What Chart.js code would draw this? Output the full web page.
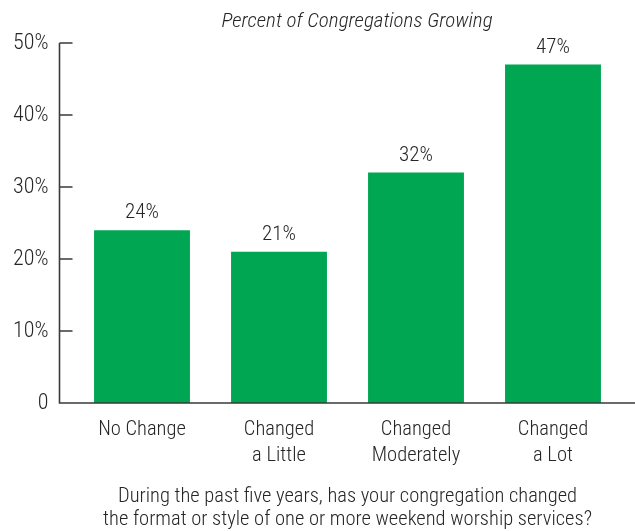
<!DOCTYPE html>
<html>
<head>
<meta charset="utf-8">
<script src="https://cdn.jsdelivr.net/npm/chart.js@4/dist/chart.umd.min.js"></script>
<style>
  html, body { margin: 0; padding: 0; background: #fff; }
  #wrap { width: 635px; height: 531px; }
</style>
</head>
<body>
<div id="wrap"><canvas id="chart"></canvas></div>
<script>
// Chart data
const categories = [["No Change"], ["Changed", "a Little"], ["Changed", "Moderately"], ["Changed", "a Lot"]];
const growingPct = [24, 21, 32, 47];
const yTickValues = [0, 10, 20, 30, 40, 50];
const yTickLabels = ["0", "10%", "20%", "30%", "40%", "50%"];
const subtitle = "Percent of Congregations Growing";
const xTitle = ["During the past five years, has your congregation changed",
                "the format or style of one or more weekend worship services?"];

const FONT = "'Roboto Condensed', Roboto, sans-serif";
const TEXT = "#262626";
const AXIS = "#3a3a3a";

// Axis lines, ticks, subtitle and value labels
const decorPlugin = {
  id: "decor",
  afterDatasetsDraw(chart) {
    const ctx = chart.ctx;
    const y = chart.scales.y;
    const axisX = 59.5;

    ctx.save();
    ctx.strokeStyle = AXIS;
    ctx.lineWidth = 1.6;
    ctx.beginPath();
    ctx.moveTo(axisX, y.getPixelForValue(50));
    ctx.lineTo(axisX, y.getPixelForValue(0));
    ctx.lineTo(chart.width, y.getPixelForValue(0));
    yTickValues.forEach(v => {
      if (v === 0) return;
      const py = y.getPixelForValue(v);
      ctx.moveTo(axisX, py);
      ctx.lineTo(axisX + 13, py);
    });
    ctx.stroke();

    // value labels
    ctx.fillStyle = TEXT;
    ctx.font = "300 21px " + FONT;
    ctx.textAlign = "center";
    ctx.textBaseline = "middle";
    chart.getDatasetMeta(0).data.forEach((bar, i) => {
      ctx.fillText(growingPct[i] + "%", bar.x, bar.y - 17);
    });

    // subtitle
    ctx.font = "italic 300 21px " + FONT;
    ctx.fillText(subtitle, 357, 22);
    ctx.restore();
  }
};

new Chart(document.getElementById("chart"), {
  type: "bar",
  data: {
    labels: categories,
    datasets: [{
      data: growingPct,
      backgroundColor: "#00a651",
      borderWidth: 0,
      categoryPercentage: 1,
      barPercentage: 0.7
    }]
  },
  options: {
    responsive: true,
    maintainAspectRatio: false,
    animation: false,
    layout: { padding: { top: 43, right: 13.5, bottom: 0, left: 0 } },
    plugins: {
      legend: { display: false },
      tooltip: { enabled: false }
    },
    scales: {
      x: {
        grid: { display: false, drawTicks: false },
        border: { display: false },
        ticks: {
          color: TEXT,
          padding: 14,
          font: { family: FONT, size: 20.5, weight: 300, lineHeight: 26 / 20.5 },
          maxRotation: 0
        },
        title: {
          display: true,
          text: xTitle,
          color: TEXT,
          padding: 0,
          font: { family: FONT, size: 20.5, weight: 300, lineHeight: 23 / 20.5 }
        },
        afterFit(scale) { scale.height = 128; }
      },
      y: {
        min: 0,
        max: 50,
        grid: { display: false, drawTicks: false },
        border: { display: false },
        afterBuildTicks(scale) {
          scale.ticks = yTickValues.map(v => ({ value: v }));
        },
        ticks: {
          color: TEXT,
          padding: 25,
          font: { family: FONT, size: 22, weight: 300 },
          callback: (v) => yTickLabels[yTickValues.indexOf(v)]
        },
        afterFit(scale) { scale.width = 73.5; }
      }
    }
  },
  plugins: [decorPlugin]
});
</script>
</body>
</html>
